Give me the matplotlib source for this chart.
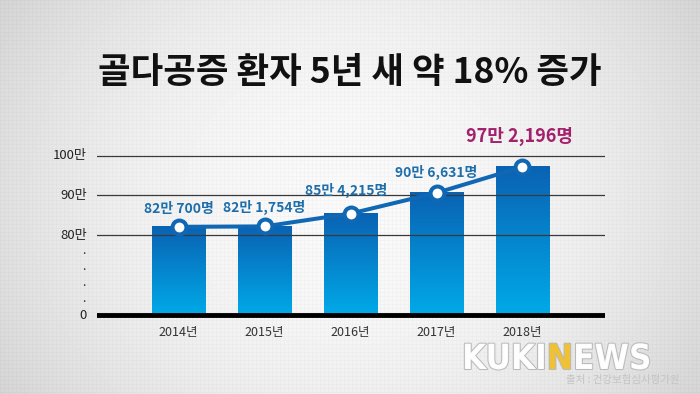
import numpy as np
import matplotlib
matplotlib.use("Agg")
from matplotlib import pyplot as plt
from matplotlib.colors import LinearSegmentedColormap
import matplotlib.patheffects as pe

plt.rcParams['font.family'] = ['Noto Sans CJK KR', 'DejaVu Sans']

# data (명)
years = ['2014년', '2015년', '2016년', '2017년', '2018년']
patients = [820700, 821754, 854215, 906631, 972196]
value_labels = ['82만 700명', '82만 1,754명', '85만 4,215명', '90만 6,631명', '97만 2,196명']
tick_values = [0, 800000, 900000, 1000000]
tick_labels = ['0', '80만', '90만', '100만']

# broken axis: 0 .. 80만 squeezed, 80만 .. 100만 linear (units of 만 above 80만)
ZERO_POS = -20.25
def pos(v):
    if v == 0:
        return ZERO_POS
    return v / 10000 - 80

fig = plt.figure(figsize=(7, 3.94), dpi=100)

# background with light vignette and fine grid texture
bg = fig.add_axes([0, 0, 1, 1], zorder=-10)
yy, xx = np.mgrid[0:394, 0:700]
r = ((xx - 350) / 380.0) ** 2 + ((yy - 200) / 330.0) ** 2
base = 0.98 - 0.12 * r
tex = ((xx % 4 == 0) | (yy % 4 == 0)) * 0.022
img = np.clip(base - tex, 0, 1)
bg.imshow(img, cmap='gray', vmin=0, vmax=1, aspect='auto', interpolation='nearest')
bg.axis('off')

ax = fig.add_axes([97 / 700, 76 / 394, 508 / 700, 166 / 394])
ax.axis('off')

x = np.arange(len(years))
tops = [pos(v) for v in patients]

# gradient bars
cmap = LinearSegmentedColormap.from_list('barblue', ['#00aae8', '#0a62b3'])
grad = np.linspace(0, 1, 256).reshape(-1, 1)
bw = 0.62
for xi, t in zip(x, tops):
    ax.imshow(grad, cmap=cmap, origin='lower', aspect='auto',
              extent=[xi - bw / 2, xi + bw / 2, ZERO_POS, t], zorder=2)
ax.set_xlim(-0.95, 4.96)
ax.set_ylim(-21, 21)

# gridlines drawn over bars
for v in tick_values[1:]:
    ax.axhline(pos(v), color='#3a3a3a', lw=0.9, zorder=3)
ax.axhline(ZERO_POS, color='black', lw=3.5, zorder=4)

# y tick labels and break dots
for v, lab in zip(tick_values, tick_labels):
    ax.text(-1.07, pos(v), lab, ha='right', va='center', fontsize=9.5,
            color='#222222', clip_on=False)
for d in [-4, -8, -12, -16]:
    ax.text(-1.08, d, '.', ha='right', va='center', fontsize=9, color='#333333',
            clip_on=False)

# year labels
for xi, lab in zip(x, years):
    ax.text(xi, ZERO_POS - 4.3, lab, ha='center', va='center', fontsize=9,
            color='#333333', clip_on=False)

# trend line with ring markers
ax.plot(x, tops, color='#1068b4', lw=2.9, zorder=5, solid_capstyle='round')
ax.plot(x, tops, 'o', ms=10, mfc='white', mec='#1068b4', mew=2.9, zorder=6)

# value labels
dy = [4.4, 4.8, 5.8, 5.1, 7.6]
dx = [0, 0, -0.05, 0, -0.03]
for i, (xi, t, lab) in enumerate(zip(x, tops, value_labels)):
    if i == len(x) - 1:
        ax.text(xi + dx[i], t + dy[i], lab, ha='center', va='center', fontsize=13,
                fontweight='bold', color='#a3206c', clip_on=False)
    else:
        ax.text(xi + dx[i], t + dy[i], lab, ha='center', va='center', fontsize=10,
                fontweight='semibold', color='#1e6eab', clip_on=False)

# title
fig.text(0.5, 1 - 72 / 394, '골다공증 환자 5년 새 약 18% 증가', ha='center', va='center',
         fontsize=25.5, fontweight='bold', color='#111111')

# watermark
fig.canvas.draw()
renderer = fig.canvas.get_renderer()
xpos = 462
stroke = [pe.withStroke(linewidth=1.5, foreground='#b8b8b8')]
for part, col in [('KUKI', 'white'), ('N', '#f1c232'), ('EWS', 'white')]:
    t = fig.text(xpos / 700, 1 - 369 / 394, part, ha='left', va='baseline',
                 fontsize=25, fontweight='bold', color=col,
                 family='DejaVu Sans', fontstretch='condensed',
                 path_effects=stroke, alpha=0.95)
    ext = t.get_window_extent(renderer)
    xpos += ext.width
fig.text(680 / 700, 1 - 380 / 394, '출처 : 건강보험심사평가원', ha='right', va='center',
         fontsize=7.5, color='#c4c4c4')

fig.savefig('out.png', dpi=100)
